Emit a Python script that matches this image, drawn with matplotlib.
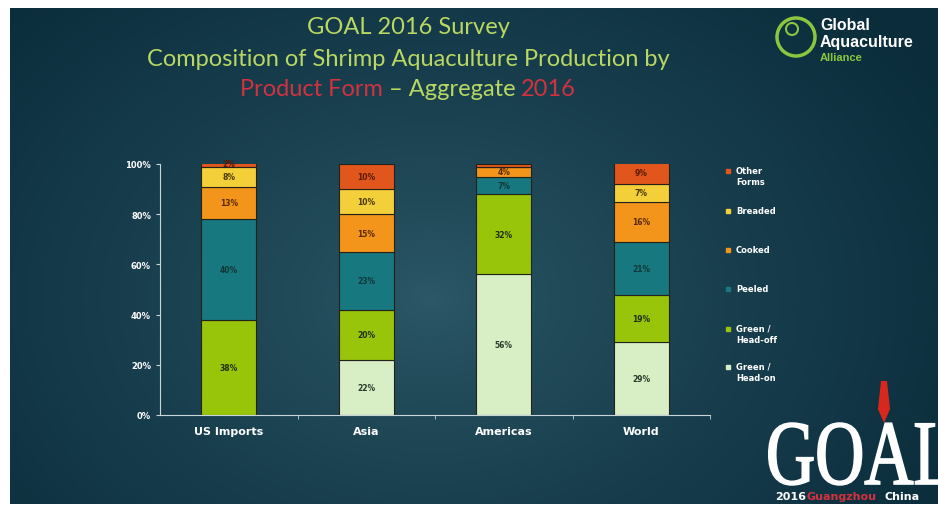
import numpy as np
import matplotlib.pyplot as plt
from matplotlib.textpath import TextPath
from matplotlib.patches import PathPatch, Circle, Polygon
from matplotlib.font_manager import FontProperties
from matplotlib.transforms import Affine2D

regions = ['US Imports', 'Asia', 'Americas', 'World']
forms = ['Green /\nHead-on', 'Green /\nHead-off', 'Peeled', 'Cooked', 'Breaded', 'Other\nForms']
head_on = [0, 22, 56, 29]
head_off = [38, 20, 32, 19]
peeled = [40, 23, 7, 21]
cooked = [13, 15, 4, 16]
breaded = [8, 10, 0, 7]
other = [2, 10, 1, 9]
series = [head_on, head_off, peeled, cooked, breaded, other]
colors = ['#d8efc6', '#98c40a', '#17787f', '#f2951a', '#f3cf3a', '#e0561c']
txtcol = ['#2a3a2a', '#203010', '#103838', '#5a2a00', '#4a3a00', '#5a1a00']

W, H = 938, 510
fig = plt.figure(figsize=(W / 100, H / 100), dpi=100)
fig.patch.set_facecolor('white')

# slide background: radial teal gradient
bg = fig.add_axes([10 / W, 5 / H, 928 / W, 496 / H])
bg.set_axis_off()
yy, xx = np.mgrid[0:496, 0:928]
r = np.sqrt(((xx - 420) / 600.0) ** 2 + ((yy - 290) / 440.0) ** 2)
r = np.clip(r, 0, 1) ** 0.8
c_in = np.array([0x2c, 0x58, 0x67]) / 255
c_out = np.array([0x0a, 0x2c, 0x3b]) / 255
img = c_in[None, None, :] * (1 - r[..., None]) + c_out[None, None, :] * r[..., None]
bg.imshow(img, aspect='auto', extent=[0, 928, 496, 0])
bg.set_xlim(0, 928)
bg.set_ylim(496, 0)

ax = fig.add_axes([160 / W, 94 / H, 550 / W, 251 / H])
ax.patch.set_alpha(0)
x = np.arange(len(regions))
bottom = np.zeros(len(regions))
for vals, col, tc in zip(series, colors, txtcol):
    vals = np.array(vals, dtype=float)
    ax.bar(x, vals, 0.4, bottom=bottom, color=col, edgecolor='#22221a', linewidth=0.8)
    for xi, v, b in zip(x, vals, bottom):
        if v >= 2:
            ax.text(xi, b + v / 2, f'{int(v)}%', ha='center', va='center',
                    fontsize=5.5, fontweight='bold', color=tc)
    bottom += vals

ax.set_xlim(-0.5, 3.5)
ax.set_ylim(0, 100)
ax.set_yticks([0, 20, 40, 60, 80, 100])
ax.set_yticklabels([f'{v}%' for v in [0, 20, 40, 60, 80, 100]])
ax.set_xticks(x)
ax.set_xticklabels(regions)
ax.set_xticks([0.5, 1.5, 2.5, 3.5], minor=True)
for s in ['top', 'right']:
    ax.spines[s].set_visible(False)
for s in ['left', 'bottom']:
    ax.spines[s].set_color('#c8d6da')
    ax.spines[s].set_linewidth(0.8)
ax.tick_params(axis='y', colors='#c8d6da', labelcolor='white', labelsize=6, length=3)
ax.tick_params(axis='x', which='major', length=0, labelcolor='white', labelsize=8, pad=8)
ax.tick_params(axis='x', which='minor', length=3, color='#c8d6da')
for lab in ax.get_yticklabels() + ax.get_xticklabels():
    lab.set_fontweight('bold')

# legend, top entry first
leg_y = [172, 212, 251, 290, 330, 368]
for name, col, py in zip(forms[::-1], colors[::-1], leg_y):
    fig.lines.append(plt.Line2D([728 / W], [1 - py / H], marker='s', markersize=3,
                                color=col, transform=fig.transFigure))
    fig.text(736 / W, 1 - (py - 5) / H, name, ha='left', va='top', color='white',
             fontsize=6, fontweight='bold', linespacing=1.3)

# title
tcol = '#b8d862'
red = '#d2323f'
tsize = 17
fig.text(408 / W, 1 - 28 / H, 'GOAL 2016 Survey', ha='center', va='center',
         color=tcol, fontsize=tsize, family='Lato')
fig.text(408 / W, 1 - 60 / H, 'Composition of Shrimp Aquaculture Production by',
         ha='center', va='center', color=tcol, fontsize=tsize, family='Lato')
parts = [('Product Form', red), (' \u2013 Aggregate ', tcol), ('2016', red)]
fig.canvas.draw()
rend = fig.canvas.get_renderer()
widths = []
for s, c in parts:
    t = fig.text(0, 0, s, fontsize=tsize, family='Lato')
    widths.append(t.get_window_extent(rend).width)
    t.remove()
xp = 408 - sum(widths) / 2
for (s, c), w in zip(parts, widths):
    fig.text(xp / W, 1 - 90 / H, s, ha='left', va='center', color=c,
             fontsize=tsize, family='Lato')
    xp += w

# alliance logo (pixel coordinates, origin bottom-left)
green = '#8cc63f'
fig.patches.append(Circle((796, H - 38), 19, transform=Affine2D(),
                          fill=False, edgecolor=green, linewidth=2.5))
fig.patches.append(Circle((792, H - 30), 6, transform=Affine2D(),
                          fill=False, edgecolor=green, linewidth=1.5))
fig.text(820 / W, 1 - 25 / H, 'Global', color='white', fontsize=11.5,
         fontweight='bold', va='center', family='Liberation Sans')
fig.text(820 / W, 1 - 42 / H, 'Aquaculture', color='white', fontsize=11.5,
         fontweight='bold', va='center', family='Liberation Sans')
fig.text(820 / W, 1 - 58 / H, 'Alliance', color=green, fontsize=8,
         fontweight='bold', va='center', family='Liberation Sans')

# conference mark, bottom right
fp = FontProperties(family='Liberation Serif')
tp = TextPath((0, 0), 'GOAL', size=92, prop=fp)
fig.patches.append(PathPatch(tp, facecolor='white', edgecolor='white', linewidth=1.2,
                             transform=Affine2D().scale(0.74, 1.0).translate(766, 25)))
fig.patches.append(Polygon([[881, 128], [887, 128], [890, 100], [884, 86], [878, 100]],
                           closed=True, facecolor='#d8281e', edgecolor='none',
                           transform=Affine2D()))
fig.text(775 / W, 1 - 497 / H, '2016', color='white', fontsize=8, fontweight='bold',
         va='center')
fig.text(806 / W, 1 - 497 / H, 'Guangzhou', color=red, fontsize=8, fontweight='bold',
         va='center')
fig.text(884 / W, 1 - 497 / H, 'China', color='white', fontsize=8, fontweight='bold',
         va='center')

fig.savefig('out.png', dpi=100)
